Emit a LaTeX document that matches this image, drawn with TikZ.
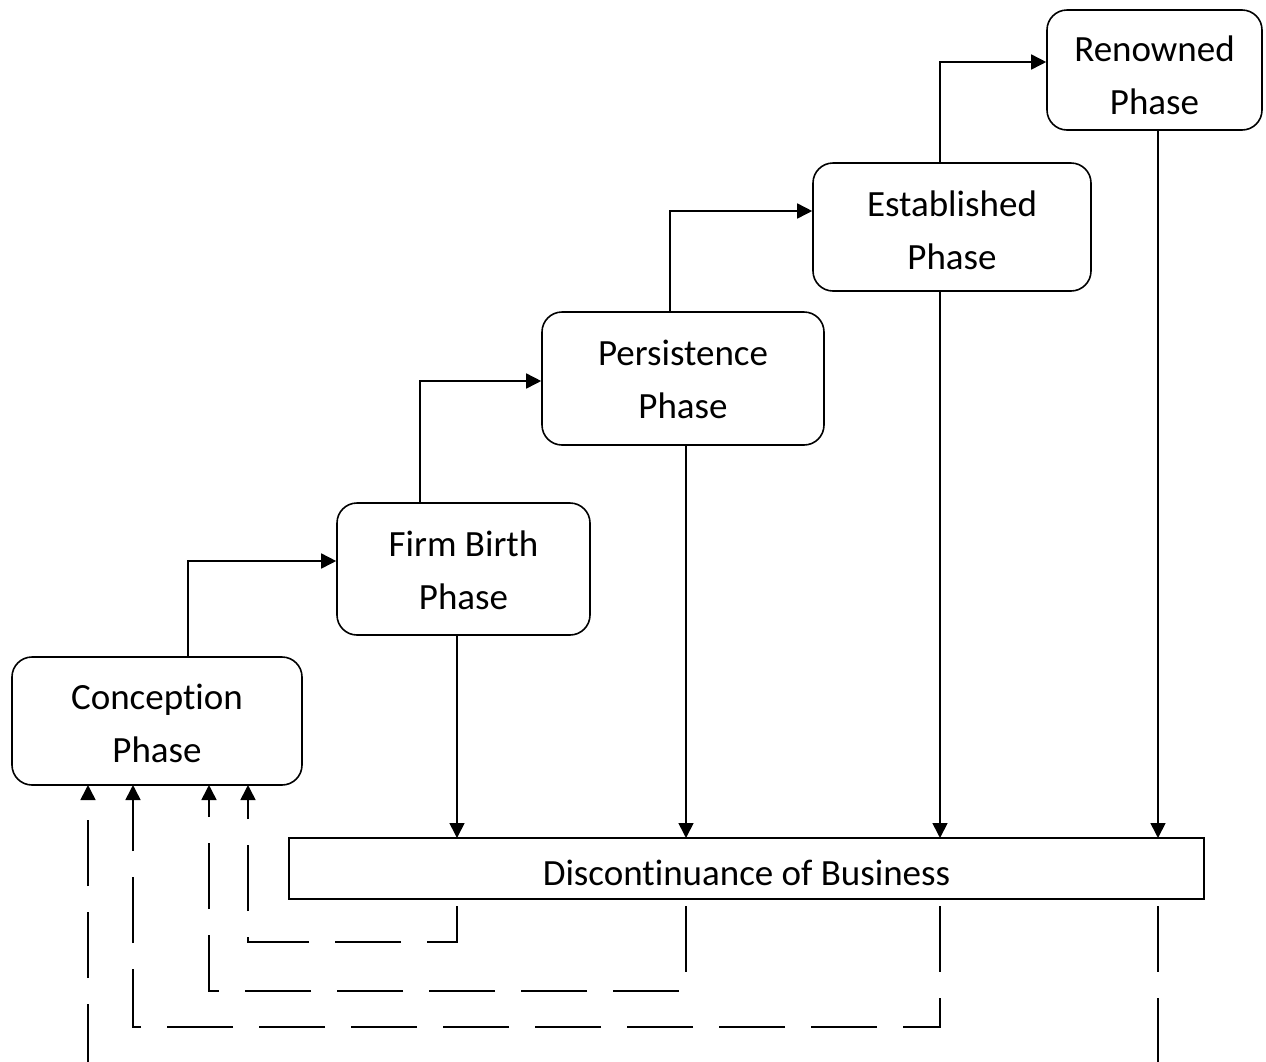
\documentclass[tikz,border=0pt]{standalone}
\usepackage{fontspec}
\setmainfont{Carlito}[Ligatures=NoCommon]
\usetikzlibrary{arrows.meta}
\begin{document}
\begin{tikzpicture}[x=1pt,y=-1pt,
  phase/.style={draw, line width=1.6pt, rounded corners=20pt, inner sep=0pt},
  caption/.style={align=center, inner sep=0pt, font=\fontsize{37}{53}\selectfont},
  flow/.style={line width=1.6pt, -{Triangle[length=15pt,width=15pt]}},
  back/.style={line width=1.6pt, dash pattern=on 66pt off 26pt},
  backarr/.style={back, -{Triangle[length=15pt,width=15pt]}}]
\useasboundingbox (0,0) rectangle (1266,1061);

% phase boxes
\node[phase, minimum width=290pt, minimum height=128pt] (conc) at (157,721) {};
\node[phase, minimum width=253pt, minimum height=132pt] (firm) at (463.5,569) {};
\node[phase, minimum width=282pt, minimum height=133pt] (pers) at (683,378.5) {};
\node[phase, minimum width=278pt, minimum height=128pt] (estb) at (952,227) {};
\node[phase, minimum width=215pt, minimum height=120pt] (renw) at (1154.5,70) {};
\node[draw, line width=1.6pt, minimum width=915pt, minimum height=61pt, inner sep=0pt] (disc) at (746.5,868.5) {};

% box texts (canvas yshift: negative moves down)
\node[caption] (conc-t) at ([yshift=-2pt]conc.center) {Conception\\Phase};
\node[caption] (firm-t) at ([yshift=-1pt]firm.center) {Firm Birth\\Phase};
\node[caption] (pers-t) at ([yshift=-1pt]pers.center) {Persistence\\Phase};
\node[caption] (estb-t) at ([yshift=-3pt]estb.center) {Established\\Phase};
\begin{scope}
  \clip (1047,0) rectangle (1262,114);
  \node[caption] (renw-t) at ([yshift=-5.5pt]renw.center) {Renowned\\Phase};
\end{scope}
\node[caption] (disc-t) at ([yshift=-4pt]disc.center) {Discontinuance of Business};

% forward steps
\draw[flow] (188,657) |- (firm.west |- 0,561);
\draw[flow] (420,503) |- (pers.west |- 0,381);
\draw[flow] (670,312) |- (estb.west |- 0,211);
\draw[flow] (940,163) |- (renw.west |- 0,62);

% exits to discontinuance
\draw[flow] (457,635) -- (457,838);
\draw[flow] (686,445) -- (686,838);
\draw[flow] (940,291) -- (940,838);
\draw[flow] (1158,130) -- (1158,838);

% return loops to conception
\coordinate (r1) at (457,906);
\coordinate (r2) at (686,906);
\coordinate (r3) at (940,906);
\coordinate (r4) at (1158,906);
\draw[backarr] (r1) |- (248,942) -- (248,785);
\draw[backarr] (r2) |- (209,991) -- (209,785);
\draw[backarr] (r3) |- (133,1027) -- (133,785);
\draw[back] (r4) -- (1158,1070);
\draw[backarr] (88,1070) -- (88,785);
\end{tikzpicture}
\end{document}
